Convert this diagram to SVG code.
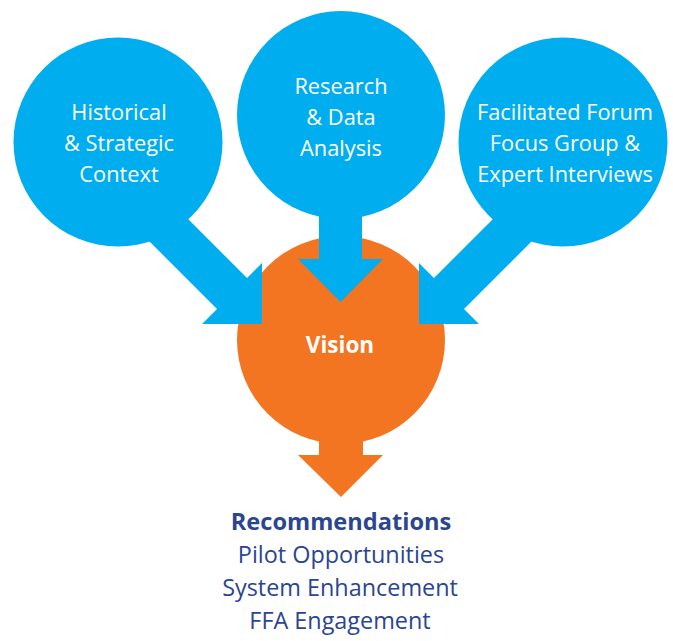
<svg xmlns="http://www.w3.org/2000/svg" width="673" height="641" viewBox="0 0 673 641">
<style>
.blue{fill:#00AEEF}
.orange{fill:#F47521}
.lbl{font-family:"Open Sans","Liberation Sans",sans-serif;font-size:21.8px;fill:#FFFFFF;text-anchor:middle}
.vis{font-family:"Open Sans","Liberation Sans",sans-serif;font-size:22.5px;font-weight:700;fill:#FFFFFF;text-anchor:middle}
.out{font-family:"Open Sans","Liberation Sans",sans-serif;font-size:23.4px;fill:#2B4593;text-anchor:middle}
.outb{font-weight:700;font-size:23.6px}
</style>
<rect width="673" height="641" fill="#FFFFFF"/>
<g id="vision">
<circle class="orange" cx="341" cy="340" r="104"/>
<text class="vis" x="340" y="353">Vision</text>
</g>
<g id="connectors">
<polygon class="blue" points="148,179 247,278 262,263 262,324 202,324 217,309 110,202"/>
<polygon class="blue" points="533,179 434,278 419,263 419,324 479,324 464,309 571,202"/>
<polygon class="blue" points="319,150 362,150 362,259 383,259 340.5,302 298,259 319,259"/>
<polygon class="orange" points="319,400 363,400 363,455 383,455 341,497 298,455 319,455"/>
</g>
<g id="historical">
<circle class="blue" cx="118" cy="142" r="104.5"/>
<text class="lbl" x="119" y="120">Historical</text>
<text class="lbl" x="119" y="151">&amp; Strategic</text>
<text class="lbl" x="119" y="182">Context</text>
</g>
<g id="research">
<circle class="blue" cx="341" cy="115" r="104"/>
<text class="lbl" x="341" y="94">Research</text>
<text class="lbl" x="341" y="125">&amp; Data</text>
<text class="lbl" x="341" y="156">Analysis</text>
</g>
<g id="facilitated">
<circle class="blue" cx="563" cy="142" r="104.5"/>
<text class="lbl" x="565" y="120">Facilitated Forum</text>
<text class="lbl" x="565" y="151">Focus Group &amp;</text>
<text class="lbl" x="565" y="182">Expert Interviews</text>
</g>
<g id="recommendations">
<text class="out outb" x="341" y="530">Recommendations</text>
<text class="out" x="341" y="563">Pilot Opportunities</text>
<text class="out" x="340" y="596">System Enhancement</text>
<text class="out" x="340" y="629">FFA Engagement</text>
</g>
</svg>
